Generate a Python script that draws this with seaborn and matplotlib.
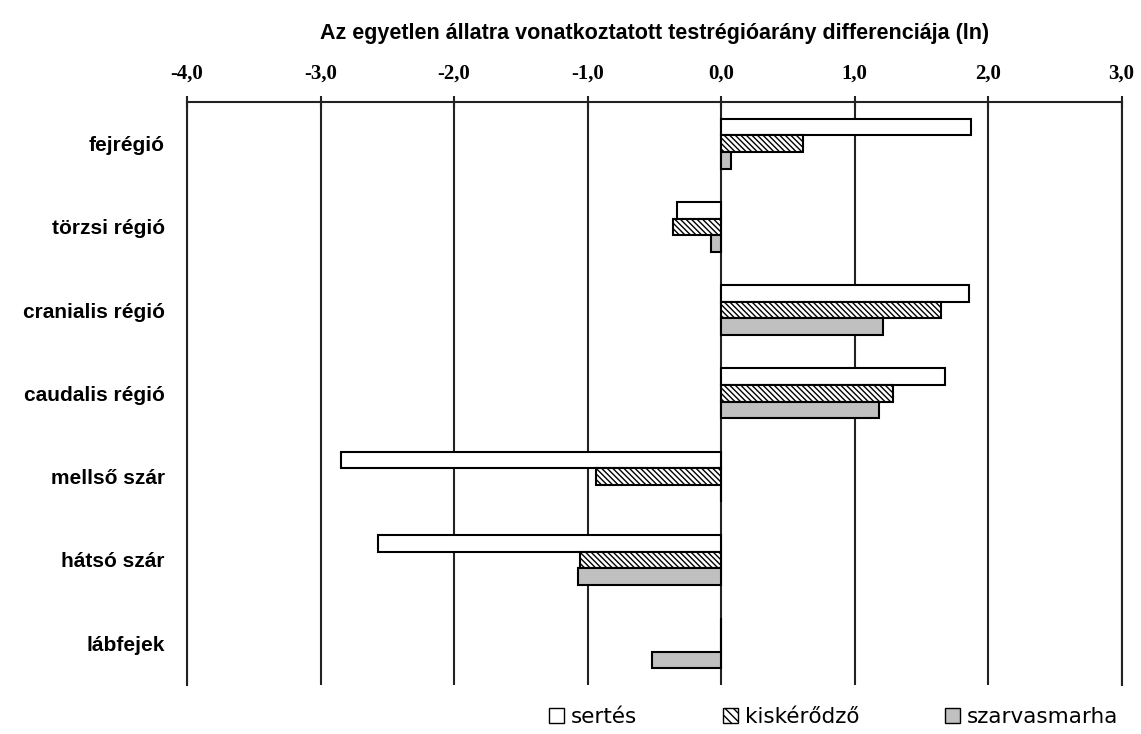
import pandas as pd
import matplotlib.pyplot as plt
import seaborn as sns
from matplotlib.ticker import FuncFormatter
from matplotlib.patches import Patch

# adatok
regiok = ["fejrégió", "törzsi régió", "cranialis régió", "caudalis régió",
          "mellső szár", "hátsó szár", "lábfejek"]
sertes = [1.87, -0.33, 1.86, 1.68, -2.85, -2.57, 0.0]
kiskerodzo = [0.61, -0.36, 1.65, 1.29, -0.94, -1.06, 0.0]
szarvasmarha = [0.075, -0.075, 1.21, 1.18, 0.0, -1.07, -0.52]
fajok = ["sertés", "kiskérődző", "szarvasmarha"]

df = pd.DataFrame({"régió": regiok, "sertés": sertes,
                   "kiskérődző": kiskerodzo, "szarvasmarha": szarvasmarha})
df_long = df.melt(id_vars="régió", var_name="faj", value_name="érték")

sns.set_style("white")
plt.rcParams["font.family"] = ["Liberation Sans", "DejaVu Sans"]
plt.rcParams["hatch.linewidth"] = 1.0
plt.rcParams["text.color"] = "black"
plt.rcParams["axes.labelcolor"] = "black"
plt.rcParams["xtick.color"] = "black"
plt.rcParams["ytick.color"] = "black"

fig = plt.figure(figsize=(11.41, 7.34), dpi=100)
ax = fig.add_axes([0.164, 0.067, 0.819, 0.794])

sns.barplot(data=df_long, y="régió", x="érték", hue="faj", order=regiok,
            hue_order=fajok, palette=["white", "white", "#c0c0c0"],
            width=0.6, edgecolor="black", linewidth=1.5, legend=False,
            orient="h", ax=ax)

# kiskérődző: sraffozott
for bar in ax.containers[1]:
    bar.set_hatch("\\\\\\\\\\\\")

ax.set_xlim(-4, 3)
ax.set_ylim(6.5, -0.5)
ax.set_xticks(range(-4, 4))
ax.xaxis.set_major_formatter(FuncFormatter(lambda v, p: f"{v:.1f}".replace(".", ",")))
ax.xaxis.tick_top()
ax.xaxis.set_label_position("top")
ax.set_xlabel("Az egyetlen állatra vonatkoztatott testrégióarány differenciája (ln)",
              fontsize=15.5, fontweight="bold", labelpad=18)
ax.set_ylabel("")
ax.tick_params(axis="x", direction="inout", length=8, width=1.5, color="#222222",
               pad=9)
ax.tick_params(axis="y", length=0, labelsize=15, pad=16)
for lab in ax.get_xticklabels():
    lab.set_fontweight("bold")
    lab.set_family(["Liberation Serif", "DejaVu Serif"])
    lab.set_fontsize(15)
for lab in ax.get_yticklabels():
    lab.set_fontweight("bold")

ax.grid(axis="x", color="#222222", linewidth=1.5)
ax.set_axisbelow(True)
ax.spines["bottom"].set_visible(False)
for s in ["top", "left", "right"]:
    ax.spines[s].set_color("#222222")
    ax.spines[s].set_linewidth(1.5)

# jelmagyarázat
handles = [Patch(facecolor="white", edgecolor="black", label="sertés"),
           Patch(facecolor="white", edgecolor="black", hatch="\\\\\\\\", label="kiskérődző"),
           Patch(facecolor="#c0c0c0", edgecolor="black", label="szarvasmarha")]
fig.legend(handles=handles, loc="lower right", bbox_to_anchor=(0.997, -0.017),
           ncol=3, frameon=False, handlelength=0.7, handleheight=0.7,
           handletextpad=0.3, columnspacing=4.0,
           prop={"family": "DejaVu Sans", "size": 15.5})

plt.savefig("out.png", dpi=100)
